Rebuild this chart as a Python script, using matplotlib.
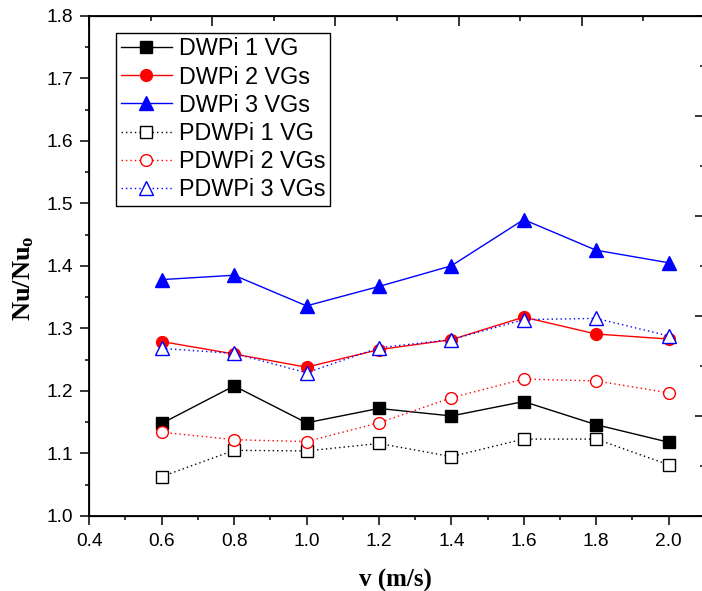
import matplotlib
matplotlib.use("Agg")
import matplotlib.pyplot as plt
from matplotlib.ticker import MultipleLocator, NullFormatter

plt.rcParams['font.family'] = ['Liberation Sans', 'DejaVu Sans']
plt.rcParams['mathtext.fontset'] = 'custom'
plt.rcParams['mathtext.rm'] = 'Liberation Serif:bold'
plt.rcParams['mathtext.bf'] = 'Liberation Serif:bold'

# Flow velocity (m/s)
velocity = [0.6, 0.8, 1.0, 1.2, 1.4, 1.6, 1.8, 2.0]

# Nu/Nu0 for each tube / vortex generator arrangement
dwpi_1vg = [1.148, 1.208, 1.149, 1.172, 1.160, 1.183, 1.146, 1.118]
dwpi_2vg = [1.279, 1.259, 1.238, 1.266, 1.282, 1.318, 1.291, 1.283]
dwpi_3vg = [1.378, 1.385, 1.336, 1.367, 1.400, 1.474, 1.425, 1.405]
pdwpi_1vg = [1.063, 1.105, 1.104, 1.116, 1.095, 1.123, 1.123, 1.082]
pdwpi_2vg = [1.134, 1.122, 1.119, 1.149, 1.189, 1.219, 1.216, 1.197]
pdwpi_3vg = [1.268, 1.260, 1.229, 1.269, 1.282, 1.314, 1.316, 1.288]

labels = ['DWPi 1 VG', 'DWPi 2 VGs', 'DWPi 3 VGs',
          'PDWPi 1 VG', 'PDWPi 2 VGs', 'PDWPi 3 VGs']

fig = plt.figure(figsize=(7.02, 5.91), dpi=100)
W, H = 702, 591
x0, x1, y0, y1 = 89.3, 704.7, 15.7, 516.0
ax = fig.add_axes([x0 / W, (H - y1) / H, (x1 - x0) / W, (y1 - y0) / H])

dot = (0, (1, 2.2))
ax.plot(velocity, dwpi_1vg, '-', color='black', lw=1, marker='s', ms=8,
        mfc='black', mec='black', label=labels[0])
ax.plot(velocity, dwpi_2vg, '-', color='red', lw=1, marker='o', ms=8.5,
        mfc='red', mec='red', label=labels[1])
ax.plot(velocity, dwpi_3vg, '-', color='blue', lw=1, marker='^', ms=10,
        mfc='blue', mec='blue', label=labels[2])
ax.plot(velocity, pdwpi_1vg, linestyle=dot, color='black', lw=1, marker='s',
        ms=8, mfc='white', mec='black', mew=1, label=labels[3])
ax.plot(velocity, pdwpi_2vg, linestyle=dot, color='red', lw=1, marker='o',
        ms=8.5, mfc='white', mec='red', mew=1, label=labels[4])
ax.plot(velocity, pdwpi_3vg, linestyle=dot, color='blue', lw=1, marker='^',
        ms=10, mfc='white', mec='blue', mew=1, label=labels[5])

ax.set_xlim(0.4, 2.1)
ax.set_ylim(1.0, 1.8)
ax.set_xticks([0.4, 0.6, 0.8, 1.0, 1.2, 1.4, 1.6, 1.8, 2.0])
ax.xaxis.set_minor_locator(MultipleLocator(0.1))
ax.yaxis.set_major_locator(MultipleLocator(0.1))
ax.yaxis.set_minor_locator(MultipleLocator(0.05))
ax.xaxis.set_major_formatter(plt.FormatStrFormatter('%.1f'))
ax.yaxis.set_major_formatter(plt.FormatStrFormatter('%.1f'))
ax.tick_params(which='major', direction='out', length=6.5, width=1.1,
               labelsize=13.8, top=False, right=False)
ax.tick_params(which='minor', direction='out', length=3, width=1.1,
               top=False, right=False)
ax.tick_params(axis='x', which='major', pad=6)
ax.tick_params(axis='y', which='major', pad=5.5)
for s in ax.spines.values():
    s.set_linewidth(1.3)

# top and right frame ticks from the second layer
ax_top = ax.twiny()
ax_top.set_xlim(0, 5)
ax_top.xaxis.set_major_locator(MultipleLocator(1))
ax_top.xaxis.set_minor_locator(MultipleLocator(0.5))
ax_top.xaxis.set_major_formatter(NullFormatter())
ax_top.tick_params(axis='x', which='major', direction='in', length=7, width=1.1)
ax_top.tick_params(axis='x', which='minor', direction='in', length=3.5, width=1.1)

ax_right = ax.twinx()
ax_right.set_ylim(0, 5)
ax_right.yaxis.set_major_locator(MultipleLocator(1))
ax_right.yaxis.set_minor_locator(MultipleLocator(0.5))
ax_right.yaxis.set_major_formatter(NullFormatter())
ax_right.tick_params(axis='y', which='major', direction='in', length=7, width=1.1)
ax_right.tick_params(axis='y', which='minor', direction='in', length=3.5, width=1.1)

ax.set_xlabel('v (m/s)', family='Liberation Serif', fontweight='bold',
              fontsize=18)
ax.xaxis.set_label_coords(0.498, -0.106)
ax.set_ylabel(r'$\mathbf{Nu/Nu_o}$', fontsize=19)
ax.yaxis.set_label_coords(-0.087, 0.475)

leg = ax.legend(loc='upper left', bbox_to_anchor=(0.0434, 0.966),
                borderaxespad=0, fontsize=16.8, frameon=True, fancybox=False,
                edgecolor='black', framealpha=1, numpoints=1,
                handlelength=2.2, handletextpad=0.3, labelspacing=0.22,
                borderpad=0.2)
leg.get_frame().set_linewidth(1.0)

fig.savefig('out.png', dpi=100)
